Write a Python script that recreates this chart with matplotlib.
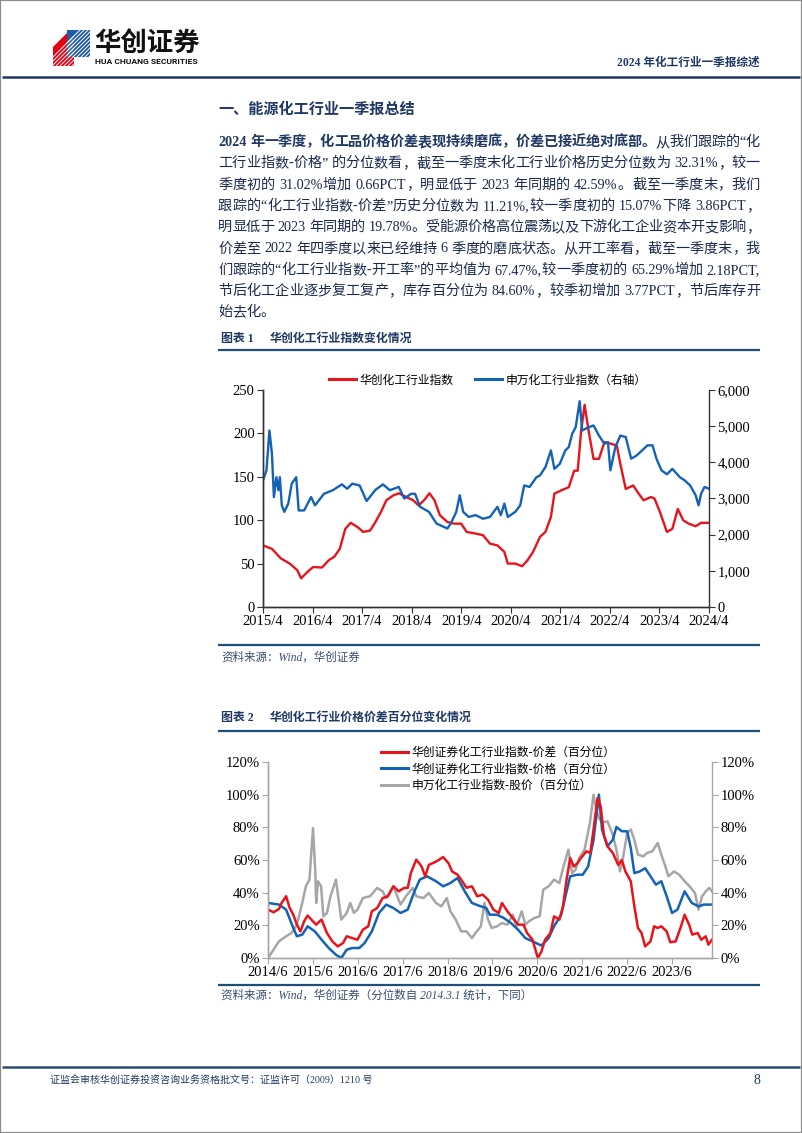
import re
import matplotlib
matplotlib.use("Agg")
import matplotlib.pyplot as plt
from matplotlib.lines import Line2D
from matplotlib.patches import Polygon, Rectangle
from matplotlib.transforms import Affine2D
from matplotlib.ticker import FuncFormatter, FixedLocator

# ---------------- data ----------------
c1_xticklabels = ["2015/4", "2016/4", "2017/4", "2018/4", "2019/4",
                  "2020/4", "2021/4", "2022/4", "2023/4", "2024/4"]
c1_left_ticks = [0, 50, 100, 150, 200, 250]
c1_right_ticks = [0, 1000, 2000, 3000, 4000, 5000, 6000]
c1_names = ["华创化工行业指数", "申万化工行业指数（右轴）"]

hc_t = [2015.25, 2015.43, 2015.61, 2015.79, 2015.94, 2016.02, 2016.15, 2016.26, 2016.44, 2016.58,
        2016.69, 2016.80, 2016.91, 2017.02, 2017.16, 2017.27, 2017.41, 2017.52, 2017.63, 2017.74,
        2017.88, 2017.99, 2018.14, 2018.28, 2018.39, 2018.50, 2018.61, 2018.71, 2018.82, 2018.97,
        2019.11, 2019.25, 2019.36, 2019.54, 2019.69, 2019.83, 2019.98, 2020.12, 2020.19, 2020.34,
        2020.48, 2020.59, 2020.70, 2020.84, 2020.95, 2021.06, 2021.13, 2021.27, 2021.42, 2021.53,
        2021.60, 2021.67, 2021.74, 2021.82, 2021.92, 2022.03, 2022.14, 2022.28, 2022.39, 2022.46,
        2022.57, 2022.72, 2022.83, 2022.93, 2023.08, 2023.15, 2023.26, 2023.40, 2023.51, 2023.62,
        2023.73, 2023.84, 2023.98, 2024.09, 2024.25]
hc_v = [71, 67, 56, 50, 42.5, 33, 40.6, 46, 45.5, 54,
        58, 67, 90, 97, 92, 86.5, 88, 98, 109.5, 123,
        128.6, 131, 126.7, 123, 117, 123, 131, 123, 105.7, 98,
        96, 96, 86.5, 84.6, 82.7, 73, 71, 63.5, 50, 50,
        47, 54, 63.5, 80.8, 86.5, 103.8, 130.6, 134.4, 138, 157,
        157, 203, 233, 203, 170.7, 170.7, 190, 188, 186, 165,
        136, 140, 130.6, 123, 126.7, 125, 109.5, 86.5, 90, 113,
        100, 96, 93, 97, 97]

sw_t = [2015.25, 2015.32, 2015.38, 2015.43, 2015.47, 2015.52, 2015.56, 2015.59, 2015.63, 2015.68,
        2015.76, 2015.83, 2015.92, 2015.97, 2016.08, 2016.22, 2016.30, 2016.48, 2016.66, 2016.84,
        2016.95, 2017.05, 2017.20, 2017.34, 2017.52, 2017.67, 2017.81, 2017.99, 2018.10, 2018.24,
        2018.32, 2018.42, 2018.60, 2018.75, 2018.97, 2019.04, 2019.15, 2019.22, 2019.29, 2019.40,
        2019.54, 2019.69, 2019.83, 2019.98, 2020.05, 2020.12, 2020.19, 2020.34, 2020.44, 2020.52,
        2020.63, 2020.77, 2020.84, 2020.95, 2021.06, 2021.13, 2021.24, 2021.35, 2021.42, 2021.49,
        2021.56, 2021.64, 2021.69, 2021.82, 2021.92, 2022.03, 2022.14, 2022.21, 2022.26, 2022.36,
        2022.46, 2022.57, 2022.68, 2022.79, 2022.90, 2023.01, 2023.11, 2023.19, 2023.29, 2023.40,
        2023.51, 2023.66, 2023.76, 2023.87, 2023.98, 2024.04, 2024.09, 2024.16, 2024.25]
sw_v = [3500, 3780, 4880, 4240, 3040, 3590, 3230, 3590, 2810, 2630,
        2860, 3410, 3590, 2670, 2670, 3040, 2810, 3130, 3230, 3390,
        3270, 3410, 3360, 2930, 3240, 3390, 3230, 3320, 3000, 3130,
        3130, 2770, 2630, 2310, 2170, 2310, 2630, 3090, 2630, 2490,
        2540, 2440, 2490, 2770, 2540, 2860, 2490, 2630, 2810, 3360,
        3320, 3590, 3640, 3870, 4330, 3820, 3960, 4330, 4420, 4790,
        4970, 5690, 4880, 4970, 5020, 4740, 4510, 4560, 3780, 4420,
        4740, 4700, 4100, 4190, 4330, 4470, 4470, 4100, 3780, 3670,
        3820, 3590, 3500, 3360, 3090, 2810, 3130, 3320, 3270]

c2_xticklabels = ["2014/6", "2015/6", "2016/6", "2017/6", "2018/6",
                  "2019/6", "2020/6", "2021/6", "2022/6", "2023/6"]
c2_yticks = [0, 20, 40, 60, 80, 100, 120]
c2_names = ["华创证券化工行业指数-价差（百分位）",
            "华创证券化工行业指数-价格（百分位）",
            "申万化工行业指数-股价（百分位）"]

spread_t = [2014.42, 2014.54, 2014.66, 2014.72, 2014.82, 2014.90, 2014.98,
            2015.06, 2015.14, 2015.22, 2015.30, 2015.42, 2015.49, 2015.61, 2015.73, 2015.85, 2015.97,
            2016.09, 2016.17, 2016.29, 2016.41, 2016.53, 2016.65, 2016.73, 2016.85, 2016.97,
            2017.09, 2017.21, 2017.33, 2017.45, 2017.53, 2017.60, 2017.72, 2017.84, 2017.92,
            2018.00, 2018.16, 2018.32, 2018.44, 2018.52, 2018.64, 2018.72, 2018.84, 2018.96,
            2019.08, 2019.20, 2019.32, 2019.44, 2019.56, 2019.63, 2019.75, 2019.87, 2019.99,
            2020.11, 2020.19, 2020.31, 2020.43, 2020.51, 2020.59, 2020.71, 2020.79, 2020.91, 2020.99,
            2021.07, 2021.15, 2021.23, 2021.31, 2021.39, 2021.51, 2021.60, 2021.67, 2021.76, 2021.83,
            2021.90, 2021.98,
            2022.10, 2022.22, 2022.30, 2022.38, 2022.50, 2022.58, 2022.66, 2022.74, 2022.82, 2022.94,
            2023.02, 2023.10, 2023.18, 2023.30, 2023.38, 2023.50, 2023.62, 2023.70, 2023.80, 2023.87,
            2023.99, 2024.07, 2024.17, 2024.23, 2024.31]
spread_v = [29.6, 28, 30, 33.7, 37.8, 30.6, 26.5,
            20.4, 16.3, 22.4, 26, 22.4, 20.4, 23.5, 15.3, 10.2, 7.1,
            9.2, 13.3, 12.2, 11.2, 17.3, 19.4, 28.6, 30.6, 36.7,
            37.8, 43.9, 40.8, 42.9, 42.9, 52, 60.2, 56, 50,
            57, 59, 61.8, 58, 53, 51, 48, 43, 43.9,
            37.8, 38.8, 35.7, 29.6, 27.6, 33.7, 28.6, 24.5, 20.4,
            20.4, 15.3, 11.2, 0, 4, 11.2, 15.3, 25.5, 23.5, 31.6,
            48, 61.2, 56, 58, 61.2, 65.3, 64.3, 78.6, 98, 92.9,
            75.5, 68.4,
            64.3, 57, 60, 53, 47, 31.6, 18.4, 15.3, 7.1, 10.2,
            19.4, 18.4, 19.4, 16.3, 9.6, 10.2, 19.4, 26.5, 20.4, 14.3,
            15.3, 11.2, 13.3, 8.2, 11.2]

price_t = [2014.42, 2014.66, 2014.82, 2014.98,
           2015.06, 2015.18, 2015.30, 2015.46, 2015.61, 2015.77, 2015.93,
           2016.05, 2016.17, 2016.29, 2016.45, 2016.57, 2016.73, 2016.89,
           2017.05, 2017.21, 2017.37, 2017.53, 2017.68, 2017.80, 2017.96,
           2018.16, 2018.32, 2018.48, 2018.64, 2018.80, 2018.96,
           2019.12, 2019.28, 2019.36, 2019.52, 2019.67, 2019.83, 2019.99,
           2020.15, 2020.31, 2020.51, 2020.67, 2020.79, 2020.95,
           2021.07, 2021.15, 2021.31, 2021.43, 2021.55, 2021.67, 2021.79, 2021.86, 2021.98,
           2022.10, 2022.18, 2022.30, 2022.42, 2022.50, 2022.58, 2022.70, 2022.82, 2022.94,
           2023.06, 2023.18, 2023.30, 2023.42, 2023.54, 2023.70, 2023.86,
           2024.01, 2024.13, 2024.31]
price_v = [33.7, 32.7, 29.6, 18.4,
           13.3, 14.3, 19.4, 16.3, 11.2, 6.1, 2,
           0, 5.1, 6.1, 6.1, 9.2, 16.3, 27.6,
           32.7, 30.6, 27.6, 29.6, 40.8, 48, 50,
           47, 43.9, 45.9, 49, 40.8, 33.7,
           32, 30.6, 26.5, 26.5, 24.5, 21.4, 17.3,
           12.2, 10.2, 7.6, 12.2, 19.4, 26.5,
           40.8, 50, 51, 51, 56, 72.4, 100, 78.6, 68.4,
           72.4, 80.2, 77.6, 77.6, 67.3, 52, 53, 55, 50,
           44.9, 47, 37.8, 27.6, 29.6, 40.8, 33.7,
           31.6, 32.7, 32.7]

stock_t = [2014.42, 2014.54, 2014.66, 2014.82, 2014.94,
           2015.06, 2015.18, 2015.26, 2015.34, 2015.42, 2015.47, 2015.49, 2015.53, 2015.60, 2015.65,
           2015.73, 2015.81, 2015.93,
           2016.01, 2016.05, 2016.17, 2016.25, 2016.33, 2016.41, 2016.53, 2016.69, 2016.85, 2016.97,
           2017.05, 2017.21, 2017.37, 2017.49, 2017.64, 2017.72, 2017.88,
           2018.00, 2018.16, 2018.28, 2018.40, 2018.48, 2018.60, 2018.72, 2018.84, 2018.96,
           2019.04, 2019.16, 2019.24, 2019.32, 2019.40, 2019.52, 2019.63, 2019.75, 2019.87, 2019.95,
           2020.07, 2020.15, 2020.23, 2020.35, 2020.47, 2020.55, 2020.67, 2020.79, 2020.91, 2020.99,
           2021.11, 2021.19, 2021.27, 2021.35, 2021.47, 2021.59, 2021.67, 2021.73, 2021.79, 2021.86,
           2021.98,
           2022.10, 2022.18, 2022.26, 2022.34, 2022.42, 2022.50, 2022.58, 2022.66, 2022.78, 2022.86,
           2022.98,
           2023.10, 2023.18, 2023.26, 2023.34, 2023.46, 2023.58, 2023.70, 2023.81, 2023.93,
           2024.01, 2024.09, 2024.17, 2024.25, 2024.31]
stock_v = [0, 5.1, 10.2, 13.3, 15.3,
           20.4, 33.7, 43.9, 48, 79.6, 53, 33.7, 47, 43.9, 25.5,
           27.6, 37.8, 48,
           31.6, 23.5, 27.6, 33.7, 27.6, 29.6, 36.7, 37.8, 42.9, 40.8,
           36.7, 43.9, 32.7, 37.8, 42.9, 37.8, 36.7,
           39.8, 33.7, 31.6, 36.7, 28.6, 23.5, 16.3, 16.3, 12.2,
           15.3, 19.4, 33.7, 23.5, 18.4, 19.4, 21.4, 20.4, 26.5, 19.4,
           28.6, 20.4, 22.4, 24.5, 25.5, 41.8, 43.9, 48, 45.9, 55,
           66.3, 52, 54, 61.2, 66.3, 82.7, 100, 90.8, 85.7, 82.7,
           83.7,
           75.5, 66.3, 53, 63.3, 76.5, 78.6, 72.4, 63.3, 62.2, 64.3,
           65.3,
           70.4, 63.3, 57, 50, 53, 51, 47, 43.9, 39.8,
           29.6, 37.8, 40.8, 42.9, 40.8]

# ---------------- styling ----------------
W, H = 802, 1133
NAVY = "#1F3864"
TEXT = "#1B2A4E"
RED = "#E8141C"
BLUE = "#1262B7"
GRAY = "#A6A6A6"
CJK = ["Liberation Serif", "Noto Sans CJK SC"]
SANSCJK = ["Noto Sans CJK SC", "DejaVu Sans"]
plt.rcParams["font.family"] = CJK

fig = plt.figure(figsize=(W / 100, H / 100), dpi=100)
fig.patch.set_facecolor("white")
renderer = fig.canvas.get_renderer()

PIX = Affine2D().scale(1.0 / W, -1.0 / H).translate(0, 1) + fig.transFigure


def fx(x):
    return x / W


def fy(y):
    return 1 - y / H


def hline(x0, x1, y, color=NAVY, lw=1.6):
    fig.add_artist(Line2D([fx(x0), fx(x1)], [fy(y), fy(y)], transform=fig.transFigure,
                          color=color, lw=lw, solid_capstyle="butt"))


def txt(x, y, s, size, color=TEXT, weight="normal", ha="left", va="center",
        family=None, style="normal"):
    return fig.text(fx(x), fy(y), s, fontsize=size, color=color, fontweight=weight,
                    ha=ha, va=va, family=family or CJK, fontstyle=style)


def ym(label):
    y, m = label.split("/")
    return int(y) + (int(m) - 1) / 12.0


# ---------------- page frame ----------------
fig.add_artist(Rectangle((0, 0), 1, 1, transform=fig.transFigure, fill=False,
                         ec="#8C8C8C", lw=1.6))

# logo
red_face = Polygon([(53, 66), (53, 47), (70, 30), (74, 30), (74, 66)], closed=True,
                   transform=PIX, fc="#E60012", ec="none")
blue_face = Polygon([(67, 30), (90, 30), (90, 57), (67, 57)], closed=True,
                    transform=PIX, fc="#1E5AA8", ec="none")
fig.add_artist(red_face)
fig.add_artist(blue_face)
for k in range(0, 60, 4):
    for face in (red_face, blue_face):
        ln = Line2D([fx(40 + k), fx(40 + k + 40)], [fy(70), fy(30)], transform=fig.transFigure,
                    color="white", lw=0.7)
        ln.set_clip_path(face)
        fig.add_artist(ln)
txt(94, 43, "华创证券", 19, color="#111111", weight="bold", family=SANSCJK)
txt(95, 62, "HUA CHUANG SECURITIES", 6.1, color="#111111", weight="bold",
    family=["Roboto", "DejaVu Sans"])
txt(760, 63, "2024 年化工行业一季报综述", 8.4, color=NAVY, weight="bold", ha="right")
hline(2, 800, 77, color=NAVY, lw=1.8)

# section title
txt(218, 110, "一、能源化工行业一季报总结", 10.9, color=NAVY, weight="bold")

# paragraph (justified)
para = [
    [("2024 年一季度，化工品价格价差表现持续磨底，价差已接近绝对底部。", True), ("从我们跟踪的“化", False)],
    [("工行业指数-价格” 的分位数看，截至一季度末化工行业价格历史分位数为 32.31%，较一", False)],
    [("季度初的 31.02%增加 0.66PCT，明显低于 2023 年同期的 42.59%。截至一季度末，我们", False)],
    [("跟踪的“化工行业指数-价差”历史分位数为 11.21%,较一季度初的 15.07%下降 3.86PCT，", False)],
    [("明显低于 2023 年同期的 19.78%。受能源价格高位震荡以及下游化工企业资本开支影响，", False)],
    [("价差至 2022 年四季度以来已经维持 6 季度的磨底状态。从开工率看，截至一季度末，我", False)],
    [("们跟踪的“化工行业指数-开工率”的平均值为 67.47%,较一季度初的 65.29%增加 2.18PCT,", False)],
    [("节后化工企业逐步复工复产，库存百分位为 84.60%，较季初增加 3.77PCT，节后库存开", False)],
    [("始去化。", False)],
]
PX0, PX1 = 218, 760
PSIZE = 10.2


def draw_para_line(segs, y, justify):
    items = []
    for s, bold in segs:
        for tok in re.findall(r"[A-Za-z0-9.%,\-]+| |.", s):
            items.append((tok, bold))
    widths, arts = [], []
    for tok, bold in items:
        if tok == " ":
            widths.append(PSIZE * 100 / 72 * 0.28)
            arts.append(None)
            continue
        t = fig.text(0, 0, tok, fontsize=PSIZE, family=CJK,
                     fontweight="bold" if bold else "normal",
                     color=NAVY if bold else TEXT, ha="left", va="baseline")
        widths.append(t.get_window_extent(renderer).width)
        arts.append(t)
    gaps = len(items) - 1
    extra = (PX1 - PX0 - sum(widths)) / gaps if (justify and gaps > 0) else 0.0
    x = PX0
    for w, a in zip(widths, arts):
        if a is not None:
            a.set_position((fx(x), fy(y + 5)))
        x += w + extra


for i, segs in enumerate(para):
    draw_para_line(segs, 141 + i * 21.3, justify=(i < len(para) - 1))

# ---------------- chart 1 ----------------
txt(221, 339, "图表 1", 8.6, color=NAVY, weight="bold")
txt(270, 339, "华创化工行业指数变化情况", 8.6, color=NAVY, weight="bold")
hline(218, 760, 350, color="#1F4E79", lw=1.6)

ax1 = fig.add_axes([fx(263), fy(607), (709 - 263) / W, (607 - 390) / H])
ax1r = ax1.twinx()
x1ticks = [ym(l) for l in c1_xticklabels]
ax1.set_xlim(x1ticks[0], x1ticks[-1])
ax1.set_ylim(c1_left_ticks[0], c1_left_ticks[-1])
ax1r.set_ylim(c1_right_ticks[0], c1_right_ticks[-1])
ax1.plot(hc_t, hc_v, color=RED, lw=1.7, zorder=3)
ax1r.plot(sw_t, sw_v, color=BLUE, lw=1.7, zorder=2)
ax1.set_xticks(x1ticks)
ax1.set_xticklabels(c1_xticklabels)
ax1.set_yticks(c1_left_ticks)
ax1r.set_yticks(c1_right_ticks)
ax1r.yaxis.set_major_formatter(FuncFormatter(lambda v, p: f"{v:,.0f}"))
for a in (ax1, ax1r):
    a.spines["top"].set_visible(False)
    for s in ("left", "right", "bottom"):
        a.spines[s].set_color("#333333")
        a.spines[s].set_linewidth(1.0)
    a.tick_params(direction="out", length=4, width=0.8, labelsize=10.5, pad=2,
                  colors="#333333", labelcolor="black")
    a.patch.set_alpha(0)
ax1.spines["right"].set_visible(False)
for lab in ax1.get_xticklabels() + ax1.get_yticklabels() + ax1r.get_yticklabels():
    lab.set_family(["Liberation Serif"])

fig.legend(handles=[Line2D([], [], color=RED, lw=2.2), Line2D([], [], color=BLUE, lw=2.2)],
           labels=c1_names, loc="center", bbox_to_anchor=(fx(488), fy(380)), ncol=2,
           frameon=False, handlelength=2.3, handletextpad=0.3, columnspacing=1.8,
           prop={"family": SANSCJK, "size": 8.5})

hline(218, 760, 645, color="#1F4E79", lw=1.6)
txt(221, 658, "资料来源：Wind，华创证券", 8.3, color="#3A4D74", style="italic")

# ---------------- chart 2 ----------------
txt(221, 718, "图表 2", 8.6, color=NAVY, weight="bold")
txt(270, 718, "华创化工行业价格价差百分位变化情况", 8.6, color=NAVY, weight="bold")
hline(218, 760, 731, color="#1F4E79", lw=1.6)

ax2 = fig.add_axes([fx(268), fy(958), (712 - 268) / W, (958 - 762) / H])
ax2r = ax2.twinx()
x2ticks = [ym(l) for l in c2_xticklabels]
ax2.set_xlim(x2ticks[0], max(spread_t))
ax2.set_ylim(c2_yticks[0], c2_yticks[-1])
ax2r.set_ylim(c2_yticks[0], c2_yticks[-1])
ax2.plot(stock_t, stock_v, color=GRAY, lw=1.8, zorder=2)
ax2.plot(price_t, price_v, color=BLUE, lw=1.8, zorder=3)
ax2.plot(spread_t, spread_v, color=RED, lw=1.8, zorder=4)
ax2.set_xticks(x2ticks)
ax2.set_xticklabels(c2_xticklabels)
for a in (ax2, ax2r):
    a.set_yticks(c2_yticks)
    a.yaxis.set_major_formatter(FuncFormatter(lambda v, p: f"{v:.0f}%"))
    a.spines["top"].set_visible(False)
    for s in ("left", "right", "bottom"):
        a.spines[s].set_color("#A6A6A6")
        a.spines[s].set_linewidth(1.0)
    a.tick_params(direction="out", length=4, width=0.8, labelsize=10.5, pad=2,
                  colors="#A6A6A6", labelcolor="black")
    a.patch.set_alpha(0)
ax2.spines["right"].set_visible(False)
for lab in ax2.get_xticklabels() + ax2.get_yticklabels() + ax2r.get_yticklabels():
    lab.set_family(["Liberation Serif"])

fig.legend(handles=[Line2D([], [], color=RED, lw=2.2), Line2D([], [], color=BLUE, lw=2.2),
                    Line2D([], [], color=GRAY, lw=2.2)],
           labels=c2_names, loc="upper left", bbox_to_anchor=(fx(374), fy(739)), ncol=1,
           frameon=False, handlelength=2.3, handletextpad=0.3, labelspacing=0.28,
           borderpad=0.1, prop={"family": SANSCJK, "size": 8.5})

hline(218, 760, 985, color="#1F4E79", lw=1.6)
txt(221, 996, "资料来源：Wind，华创证券（分位数自 2014.3.1 统计，下同）", 8.3,
    color="#3A4D74", style="italic")

# ---------------- footer ----------------
hline(2, 800, 1067, color="#2E4A6E", lw=1.8)
txt(50, 1080, "证监会审核华创证券投资咨询业务资格批文号：证监许可（2009）1210 号", 7.2, color=NAVY)
txt(757, 1080, "8", 10, color=NAVY, ha="center")

fig.savefig("out.png", dpi=100, facecolor="white")
